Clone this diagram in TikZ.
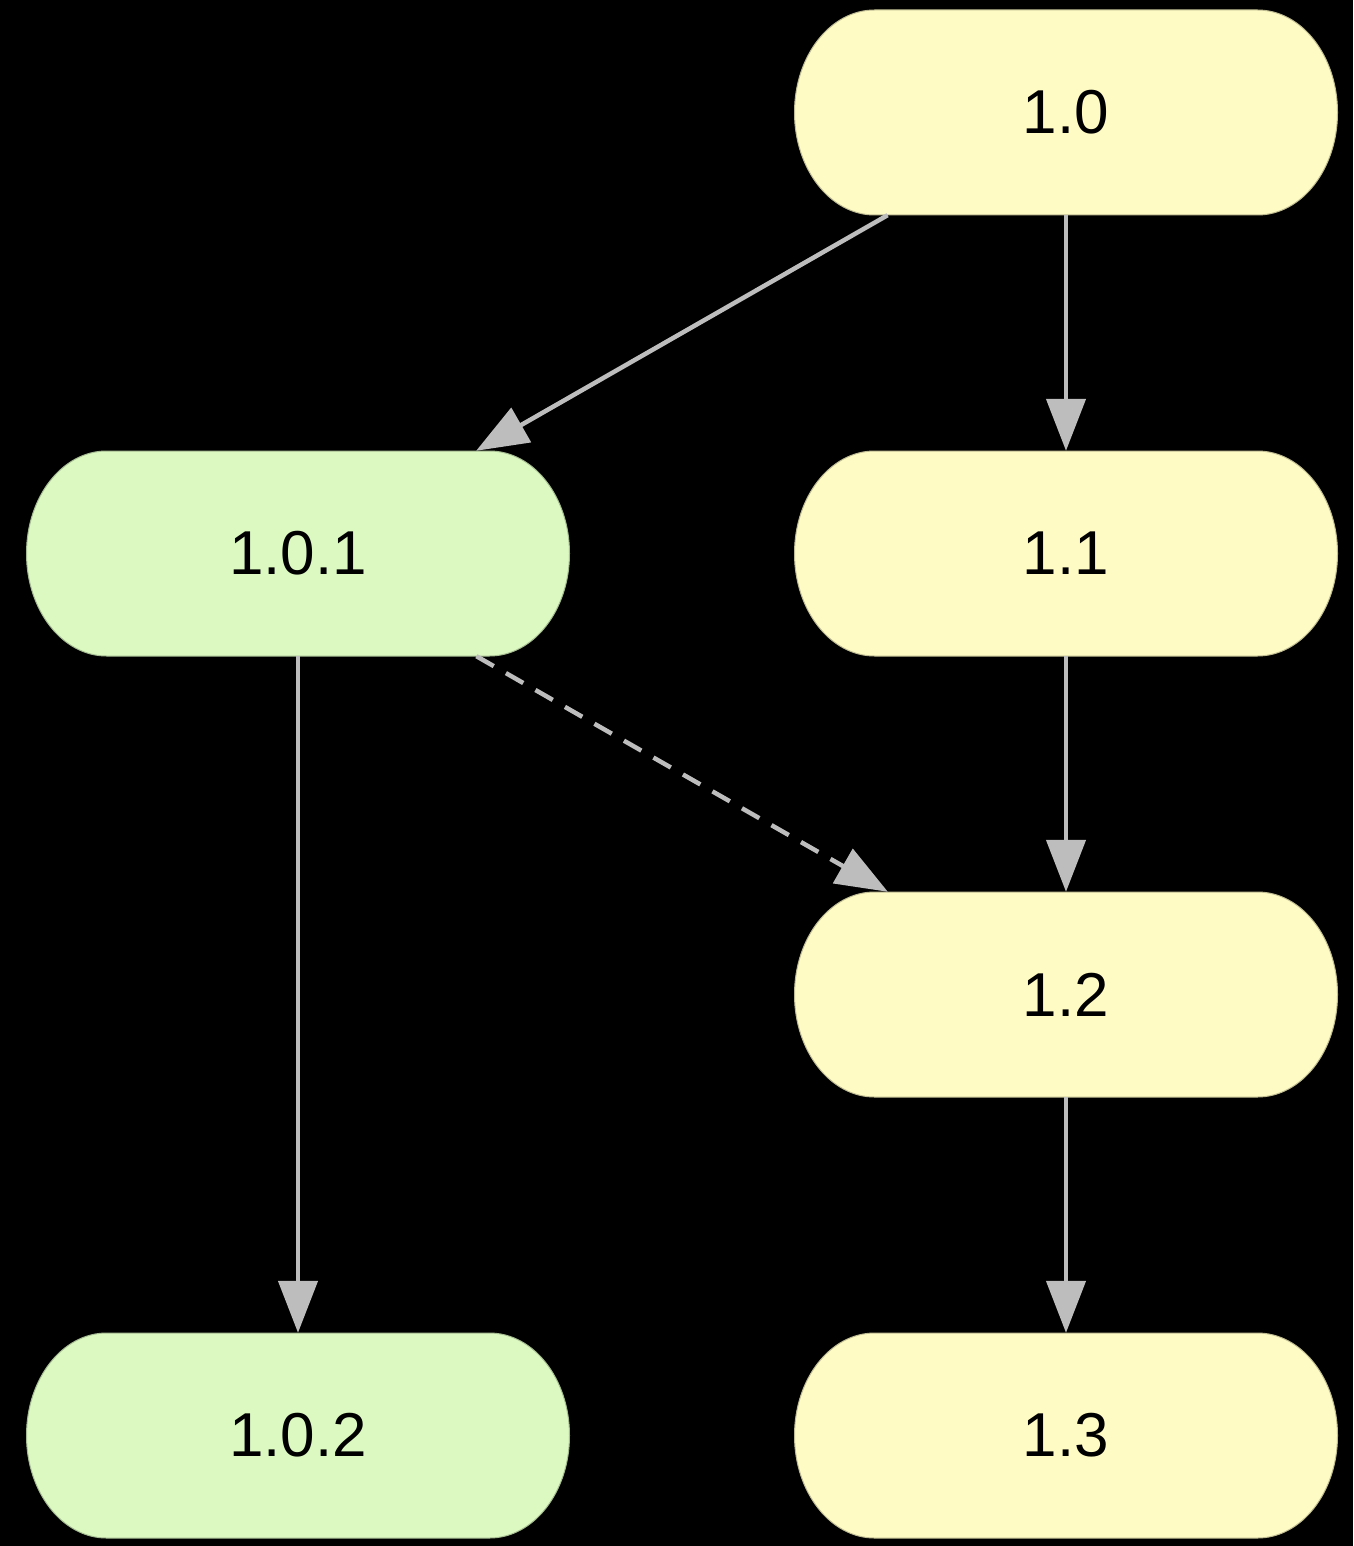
\documentclass[tikz,border=0pt]{standalone}
\usepackage{fontspec}
\setmainfont{Liberation Sans}
\usetikzlibrary{arrows.meta}
\definecolor{yel}{HTML}{FFFBC4}
\definecolor{grn}{HTML}{DCF9C1}
\definecolor{edge}{HTML}{BDBDBD}
\newcommand\pillshape[3]{%
  \filldraw[fill=#3, draw=#3!75!black, line width=1pt]
    ({#1-191.5},{#2+102.5}) -- ({#1+191.5},{#2+102.5})
    arc[start angle=90,end angle=0,x radius=80,y radius=102.5]
    arc[start angle=0,end angle=-90,x radius=80,y radius=102.5]
    -- ({#1-191.5},{#2-102.5})
    arc[start angle=270,end angle=180,x radius=80,y radius=102.5]
    arc[start angle=180,end angle=90,x radius=80,y radius=102.5] -- cycle;}
\begin{document}
\begin{tikzpicture}[x=1pt,y=1pt,
  vnode/.style={rectangle, minimum width=543pt, minimum height=205pt, inner sep=0pt,
    font=\fontsize{62}{68}\selectfont, text=black},
  conn/.style={draw=edge, line width=4.5pt, -{Triangle[length=52pt,width=39pt]}},
  dconn/.style={conn, dash pattern=on 20pt off 14pt}]
\fill[black] (0,0) rectangle (1353,-1546);
\useasboundingbox (0,0) rectangle (1353,-1546);
\pillshape{1066}{-112.5}{yel}
\pillshape{1066}{-553.5}{yel}
\pillshape{1066}{-994.5}{yel}
\pillshape{1066}{-1435.5}{yel}
\pillshape{298}{-553.5}{grn}
\pillshape{298}{-1435.5}{grn}
\node[vnode] (n10) at (1066,-112.5) {1.0};
\node[vnode] (n11) at (1066,-553.5) {1.1};
\node[vnode] (n12) at (1066,-994.5) {1.2};
\node[vnode] (n13) at (1066,-1435.5) {1.3};
\node[vnode] (n101) at (298,-553.5) {1.0.1};
\node[vnode] (n102) at (298,-1435.5) {1.0.2};
\draw[conn] (n10) -- (n101);
\draw[conn] (n10) -- (n11);
\draw[conn] (n11) -- (n12);
\draw[conn] (n12) -- (n13);
\draw[conn] (n101) -- (n102);
\draw[dconn] (n101) -- (n12);
\end{tikzpicture}
\end{document}
